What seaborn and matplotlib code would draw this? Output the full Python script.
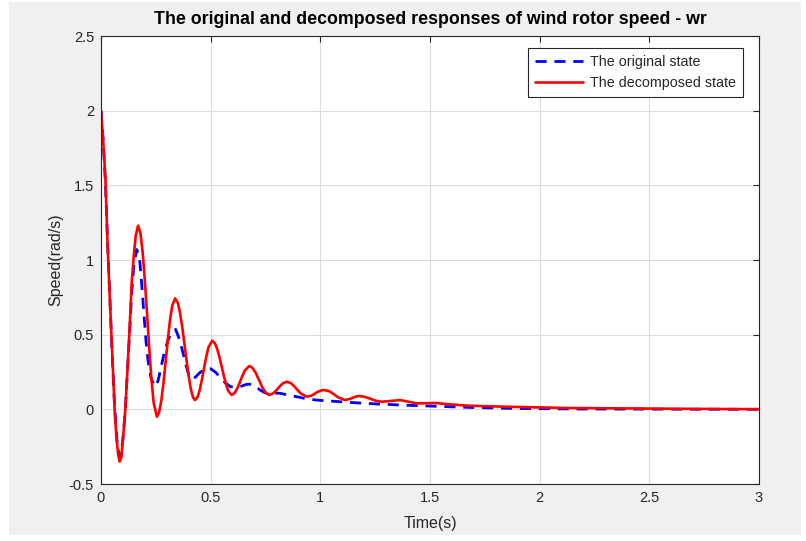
import matplotlib
matplotlib.use("Agg")
import matplotlib.pyplot as plt
import seaborn as sns
import pandas as pd
from matplotlib.patches import Rectangle

# ---- data ----
t_orig = [0.000, 0.010, 0.020, 0.030, 0.040, 0.050, 0.062, 0.075, 0.088, 0.100,
          0.111, 0.120, 0.130, 0.140, 0.150, 0.163, 0.175, 0.185, 0.195, 0.205,
          0.215, 0.228, 0.245, 0.260, 0.275, 0.290, 0.305, 0.320, 0.340, 0.355,
          0.370, 0.385, 0.400, 0.413, 0.430, 0.450, 0.470, 0.500, 0.525, 0.545,
          0.565, 0.590, 0.615, 0.640, 0.665, 0.685, 0.705, 0.725, 0.745, 0.765,
          0.790, 0.815, 0.840, 0.877, 0.920, 0.953, 1.000, 1.060, 1.150, 1.257,
          1.380, 1.500, 1.680, 1.910, 2.200, 2.600, 3.000]
y_orig = [2.00, 1.80, 1.52, 1.12, 0.76, 0.40, 0.02, -0.25, -0.32, -0.20,
          0.00, 0.24, 0.50, 0.78, 0.97, 1.07, 1.02, 0.85, 0.65, 0.46,
          0.32, 0.21, 0.152, 0.19, 0.29, 0.39, 0.46, 0.51, 0.535, 0.48,
          0.40, 0.31, 0.23, 0.20, 0.215, 0.245, 0.265, 0.272, 0.245, 0.21,
          0.18, 0.152, 0.147, 0.155, 0.168, 0.168, 0.152, 0.13, 0.112, 0.105,
          0.108, 0.108, 0.100, 0.089, 0.076, 0.067, 0.060, 0.054, 0.045, 0.036,
          0.028, 0.022, 0.013, 0.005, 0.002, 0.001, 0.000]

t_dec = [0.000, 0.010, 0.020, 0.030, 0.040, 0.047, 0.055, 0.062, 0.070, 0.078,
         0.085, 0.093, 0.100, 0.111, 0.120, 0.129, 0.140, 0.149, 0.158, 0.169,
         0.180, 0.190, 0.200, 0.210, 0.220, 0.230, 0.240, 0.255, 0.265, 0.275,
         0.285, 0.295, 0.305, 0.315, 0.325, 0.338, 0.350, 0.360, 0.370, 0.380,
         0.390, 0.400, 0.410, 0.420, 0.429, 0.440, 0.450, 0.460, 0.470, 0.480,
         0.490, 0.507, 0.520, 0.530, 0.540, 0.550, 0.560, 0.570, 0.580, 0.596,
         0.610, 0.625, 0.640, 0.655, 0.676, 0.690, 0.705, 0.720, 0.735, 0.750,
         0.767, 0.785, 0.800, 0.815, 0.830, 0.847, 0.865, 0.880, 0.895, 0.910,
         0.938, 0.960, 0.975, 0.990, 1.014, 1.040, 1.060, 1.080, 1.113, 1.140,
         1.160, 1.175, 1.200, 1.230, 1.255, 1.280, 1.320, 1.363, 1.440, 1.530,
         1.600, 1.680, 1.830, 2.000, 2.120, 2.400, 2.700, 3.000]
y_dec = [2.00, 1.80, 1.55, 1.10, 0.75, 0.51, 0.25, 0.00, -0.18, -0.30,
         -0.35, -0.32, -0.20, 0.00, 0.25, 0.50, 0.85, 1.02, 1.16, 1.23,
         1.18, 1.05, 0.86, 0.64, 0.41, 0.20, 0.045, -0.05, -0.02, 0.058,
         0.179, 0.324, 0.472, 0.602, 0.695, 0.743, 0.714, 0.649, 0.556, 0.443,
         0.327, 0.219, 0.132, 0.078, 0.062, 0.081, 0.129, 0.198, 0.277, 0.353,
         0.415, 0.46, 0.441, 0.403, 0.350, 0.288, 0.224, 0.167, 0.124, 0.096,
         0.110, 0.152, 0.208, 0.259, 0.29, 0.279, 0.245, 0.198, 0.149, 0.112,
         0.096, 0.107, 0.128, 0.154, 0.175, 0.185, 0.176, 0.156, 0.131, 0.107,
         0.085, 0.092, 0.105, 0.119, 0.130, 0.122, 0.103, 0.081, 0.062, 0.072,
         0.085, 0.089, 0.085, 0.070, 0.056, 0.051, 0.056, 0.062, 0.040, 0.042,
         0.032, 0.024, 0.018, 0.013, 0.009, 0.006, 0.003, 0.001]

x_ticks = [0, 0.5, 1, 1.5, 2, 2.5, 3]
x_tick_labels = ["0", "0.5", "1", "1.5", "2", "2.5", "3"]
y_ticks = [-0.5, 0, 0.5, 1, 1.5, 2, 2.5]
y_tick_labels = ["-0.5", "0", "0.5", "1", "1.5", "2", "2.5"]

df_orig = pd.DataFrame({"Time": t_orig, "Speed": y_orig})
df_dec = pd.DataFrame({"Time": t_dec, "Speed": y_dec})

# ---- style ----
sns.set_style("white")
plt.rcParams["font.family"] = ["Liberation Sans", "DejaVu Sans"]

fig = plt.figure(figsize=(8.06, 5.41), dpi=100, facecolor="white")
fig.patches.append(Rectangle((9 / 806, 6 / 541), 792 / 806, 533 / 541,
                             transform=fig.transFigure, facecolor="#f0f0f0",
                             edgecolor="none", zorder=-10))
ax = fig.add_axes([101 / 806, 1 - 484 / 541, 658 / 806, 448 / 541])
ax.set_facecolor("white")

sns.lineplot(data=df_orig, x="Time", y="Speed", ax=ax, color="#0000ff",
             linewidth=2.0, linestyle=(0, (4, 2.8)), label="The original state",
             estimator=None, sort=False)
sns.lineplot(data=df_dec, x="Time", y="Speed", ax=ax, color="#ff0000",
             linewidth=1.9, label="The decomposed state",
             estimator=None, sort=False)

ax.set_xlim(0, 3)
ax.set_ylim(-0.5, 2.5)
ax.set_xticks(x_ticks)
ax.set_xticklabels(x_tick_labels)
ax.set_yticks(y_ticks)
ax.set_yticklabels(y_tick_labels)

ax.grid(True, color="#dcdcdc", linewidth=0.8)
ax.set_axisbelow(True)
for s in ax.spines.values():
    s.set_visible(True)
    s.set_color("#262626")
    s.set_linewidth(0.8)
ax.tick_params(axis="both", direction="in", length=4, width=0.8,
               colors="#262626", labelsize=10.5, top=True, right=True,
               pad=5)
for lab in ax.get_xticklabels() + ax.get_yticklabels():
    lab.set_color("#262626")

ax.set_xlabel("Time(s)", fontsize=11.5, color="#262626", labelpad=8)
ax.set_ylabel("Speed(rad/s)", fontsize=11.5, color="#262626", labelpad=4)
ax.set_title("The original and decomposed responses of wind rotor speed - wr",
             fontsize=12.8, fontweight="bold", color="black", pad=9)

leg = ax.legend(loc="upper right", bbox_to_anchor=(0.9757, 0.973),
                fontsize=10.3, frameon=True, fancybox=False, handlelength=3.4,
                borderpad=0.5, labelspacing=0.45, handletextpad=0.45,
                borderaxespad=0)
leg.get_frame().set_edgecolor("#262626")
leg.get_frame().set_linewidth(0.8)
leg.get_frame().set_alpha(1)

fig.savefig("out.png", dpi=100, facecolor=fig.get_facecolor())
